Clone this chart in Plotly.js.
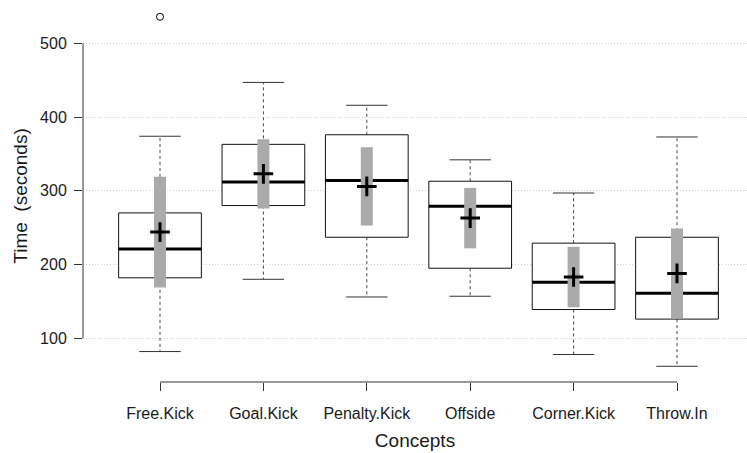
<!DOCTYPE html>
<html>
<head>
<meta charset="utf-8">
<script src="https://cdn.plot.ly/plotly-3.0.1.min.js"></script>
<style>html,body{margin:0;padding:0;background:#fff;}#chart{width:747px;height:453px;}</style>
</head>
<body>
<div id="chart"></div>
<script>
const categories = ['Free.Kick', 'Goal.Kick', 'Penalty.Kick', 'Offside', 'Corner.Kick', 'Throw.In'];
const lowerWhisker = [82, 180, 156, 157, 78, 62];
const q1 = [182, 280, 237, 195, 139, 126];
const median = [221, 312, 314, 279, 176, 161];
const q3 = [270, 363, 376, 313, 229, 237];
const upperWhisker = [374, 447, 416, 342, 297, 373];
const means = [244, 323, 306, 263, 183, 188];
const sds = [75, 47, 53, 41, 41, 61];
const outlierCategory = ['Free.Kick'];
const outlierValue = [536];
const yTicks = [100, 200, 300, 400, 500];

const pos = categories.map((c, i) => i + 1);
const boxHalf = 0.4, capHalf = 0.2;

function segs(fn) {
  const x = [], y = [];
  pos.forEach((p, i) => { fn(p, i).forEach(s => { x.push(s[0], s[2], null); y.push(s[1], s[3], null); }); });
  return {x, y};
}

const whisk = segs((p, i) => [[p, q3[i], p, upperWhisker[i]], [p, q1[i], p, lowerWhisker[i]]]);
const caps = segs((p, i) => [[p - capHalf, upperWhisker[i], p + capHalf, upperWhisker[i]], [p - capHalf, lowerWhisker[i], p + capHalf, lowerWhisker[i]]]);
const med = segs((p, i) => [[p - boxHalf, median[i], p + boxHalf, median[i]]]);
const sdBar = segs((p, i) => [[p, means[i] - sds[i], p, means[i] + sds[i]]]);

const boxX = [], boxY = [];
pos.forEach((p, i) => {
  boxX.push(p - boxHalf, p + boxHalf, p + boxHalf, p - boxHalf, p - boxHalf, null);
  boxY.push(q1[i], q1[i], q3[i], q3[i], q1[i], null);
});

const traces = [
  {type: 'scatter', mode: 'lines', x: whisk.x, y: whisk.y, line: {color: '#444', width: 1, dash: '3px,3px'}, hoverinfo: 'skip'},
  {type: 'scatter', mode: 'lines', x: caps.x, y: caps.y, line: {color: '#333', width: 1}, hoverinfo: 'skip'},
  {type: 'scatter', mode: 'lines', x: boxX, y: boxY, fill: 'toself', fillcolor: '#ffffff', line: {color: '#111', width: 1}, hoverinfo: 'skip'},
  {type: 'scatter', mode: 'lines', x: med.x, y: med.y, line: {color: '#000', width: 3}, hoverinfo: 'skip'},
  {type: 'scatter', mode: 'lines', x: sdBar.x, y: sdBar.y, line: {color: '#aaaaaa', width: 12}, hoverinfo: 'skip'},
  {type: 'scatter', mode: 'markers', x: pos, y: means, marker: {symbol: 'cross-thin', size: 14, color: '#000', line: {color: '#000', width: 3}}, hoverinfo: 'skip'},
  {type: 'scatter', mode: 'markers', x: outlierCategory.map(c => categories.indexOf(c) + 1), y: outlierValue,
   marker: {symbol: 'circle-open', size: 7, color: '#000', line: {color: '#000', width: 1}}, cliponaxis: false, hoverinfo: 'skip'}
];

const font = {family: 'Liberation Sans, Arial, sans-serif', color: '#1a1a1a'};

const layout = {
  width: 747, height: 453,
  margin: {l: 83, r: 0, t: 10, b: 71},
  paper_bgcolor: '#fff', plot_bgcolor: '#fff',
  showlegend: false, hovermode: false,
  font: font,
  xaxis: {
    range: [0.2553, 6.677], tickmode: 'array', tickvals: pos, ticktext: categories,
    showgrid: false, zeroline: false, showline: false,
    ticks: 'outside', ticklen: 8, tickcolor: '#333', tickwidth: 1,
    ticklabelstandoff: 9,
    tickfont: {size: 16, family: font.family, color: '#1a1a1a'},
    title: {text: 'Concepts', font: {size: 19, family: font.family, color: '#1a1a1a'}, standoff: 12}
  },
  yaxis: {
    range: [40.7, 545.2], tickmode: 'array', tickvals: yTicks,
    showgrid: true, gridcolor: '#cfcfcf', griddash: '1px,2px', gridwidth: 1,
    zeroline: false, showline: false,
    ticks: 'outside', ticklen: 8, tickcolor: '#333', tickwidth: 1,
    ticklabelstandoff: 4,
    tickfont: {size: 16, family: font.family, color: '#1a1a1a'},
    title: {text: 'Time  (seconds)', font: {size: 19, family: font.family, color: '#1a1a1a'}, standoff: 7}
  },
  shapes: [
    {type: 'line', xref: 'paper', yref: 'y', x0: 0, x1: 0, y0: yTicks[0], y1: yTicks[yTicks.length - 1], line: {color: '#333', width: 1}},
    {type: 'line', xref: 'x', yref: 'paper', x0: pos[0], x1: pos[pos.length - 1], y0: 0, y1: 0, line: {color: '#333', width: 1}}
  ]
};

Plotly.newPlot('chart', traces, layout, {staticPlot: true, displayModeBar: false});
</script>
</body>
</html>
